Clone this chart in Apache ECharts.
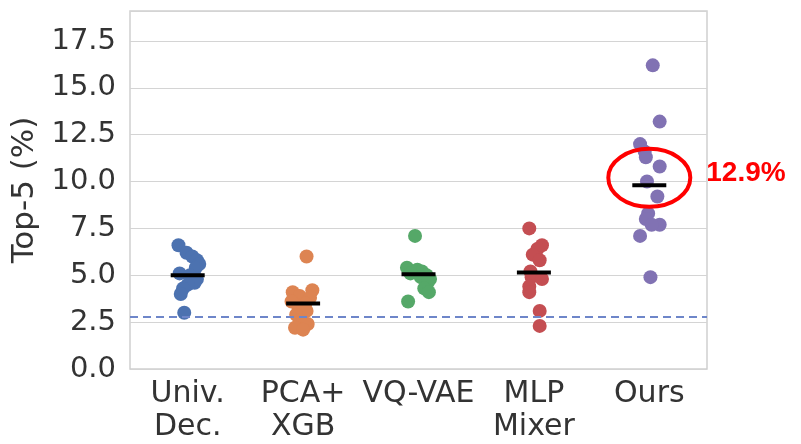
<!DOCTYPE html>
<html><head><meta charset="utf-8">
<script src="https://cdn.jsdelivr.net/npm/echarts@6/dist/echarts.min.js"></script>
<style>html,body{margin:0;padding:0;background:#fff}#c{width:801px;height:444px}</style>
</head><body><div id="c"></div>
<script>
const categories = ['Univ.\nDec.', 'PCA+\nXGB', 'VQ-VAE', 'MLP\nMixer', 'Ours'];
const colors = ['#4C72B0', '#DD8452', '#55A868', '#C44E52', '#8172B3'];
const yTicks = [0, 2.5, 5, 7.5, 10, 12.5, 15, 17.5];
// values, with horizontal jitter (in category units)
const univVals   = [6.6, 6.2, 6.0, 5.8, 5.6, 5.4, 5.1, 5.0, 4.8, 4.6, 4.5, 4.3, 4.0, 3.0];
const univJit    = [-0.08, -0.01, 0.04, 0.08, 0.10, 0.07, -0.07, 0.02, 0.08, 0.06, 0.0, -0.04, -0.06, -0.03];
const pcaVals    = [6.0, 4.2, 4.1, 3.9, 3.8, 3.6, 3.5, 3.3, 3.1, 2.9, 2.6, 2.4, 2.2, 2.1];
const pcaJit     = [0.03, 0.08, -0.09, -0.03, 0.06, -0.10, 0.02, -0.04, 0.03, -0.06, -0.03, 0.04, -0.07, 0.0];
const vqVals     = [7.1, 5.4, 5.3, 5.2, 5.1, 5.0, 4.9, 4.8, 4.6, 4.3, 4.1, 3.6];
const vqJit      = [-0.03, -0.10, -0.01, 0.03, -0.07, 0.07, 0.02, 0.10, 0.08, 0.05, 0.09, -0.09];
const mlpVals    = [7.5, 6.6, 6.4, 6.1, 5.8, 5.2, 4.9, 4.8, 4.4, 4.1, 3.1, 2.3];
const mlpJit     = [-0.04, 0.07, 0.03, -0.01, 0.05, -0.03, -0.02, 0.07, -0.04, -0.04, 0.05, 0.05];
const oursVals   = [16.2, 13.2, 12.0, 11.6, 11.3, 10.8, 10.0, 9.2, 8.3, 8.0, 7.7, 7.7, 7.1, 4.9];
const oursJit    = [0.03, 0.09, -0.08, -0.04, -0.03, 0.09, -0.02, 0.07, -0.01, -0.03, 0.09, 0.02, -0.08, 0.01];
const medians    = [5.0, 3.5, 5.05, 5.15, 9.8];
const chanceLevel = 2.8;
const annotationText = '12.9%';
const annotationAt = [4, 10.2];

const groups = [[univVals, univJit], [pcaVals, pcaJit], [vqVals, vqJit], [mlpVals, mlpJit], [oursVals, oursJit]];
const font = 'DejaVu Sans';

const series = groups.map(([vals, jit], i) => ({
  type: 'scatter', xAxisIndex: 1, yAxisIndex: 0,
  symbolSize: 14, itemStyle: { color: colors[i], opacity: 1 },
  data: vals.map((v, k) => [i + jit[k], v]), z: 2
}));
series.push({
  type: 'scatter', xAxisIndex: 1, symbol: 'rect', symbolSize: [34, 4],
  itemStyle: { color: '#000', opacity: 1 }, z: 5,
  data: medians.map((m, i) => [i, m])
});
series.push({
  type: 'line', xAxisIndex: 1, data: [], silent: true,
  markLine: { symbol: 'none', silent: true, label: { show: false },
    lineStyle: { type: [8, 5], color: '#6E86C9', width: 2 },
    data: [{ yAxis: chanceLevel }] }
});

const chart = echarts.init(document.getElementById('c'));
chart.setOption({
  animation: false,
  backgroundColor: '#fff',
  grid: { left: 130, right: 94, top: 11, bottom: 75, show: true, borderColor: '#cfcfcf', borderWidth: 1.5 },
  xAxis: [
    { type: 'category', data: categories, boundaryGap: true,
      axisLine: { show: false }, axisTick: { show: false }, splitLine: { show: false },
      axisLabel: { interval: 0, fontFamily: font, fontSize: 30, color: '#333', lineHeight: 33, margin: 9 } },
    { type: 'value', min: -0.5, max: 4.5, show: false, splitLine: { show: false } }
  ],
  yAxis: {
    type: 'value', min: 0, max: 19.1, interval: 2.5,
    name: 'Top-5 (%)', nameLocation: 'middle', nameGap: 84,
    nameTextStyle: { fontFamily: font, fontSize: 31, color: '#333' },
    axisLine: { show: false }, axisTick: { show: false },
    axisLabel: { fontFamily: font, fontSize: 29, color: '#333', margin: 14,
      formatter: v => yTicks.some(t => Math.abs(t - v) < 1e-6) ? v.toFixed(1) : '' },
    splitLine: { lineStyle: { color: '#d4d4d4', width: 1.2 } }
  },
  series
});
const c = chart.convertToPixel({ xAxisIndex: 1, yAxisIndex: 0 }, annotationAt);
chart.setOption({
  graphic: [
    { type: 'ellipse', shape: { cx: c[0], cy: c[1], rx: 41, ry: 29 },
      style: { fill: 'none', stroke: '#FF0000', lineWidth: 4 }, z: 10 },
    { type: 'text', x: c[0] + 57, y: c[1] - 5,
      style: { text: annotationText, fill: '#FF0000', font: 'bold 28px "Liberation Sans"', verticalAlign: 'middle', align: 'left' }, z: 10 }
  ]
});
</script></body></html>
